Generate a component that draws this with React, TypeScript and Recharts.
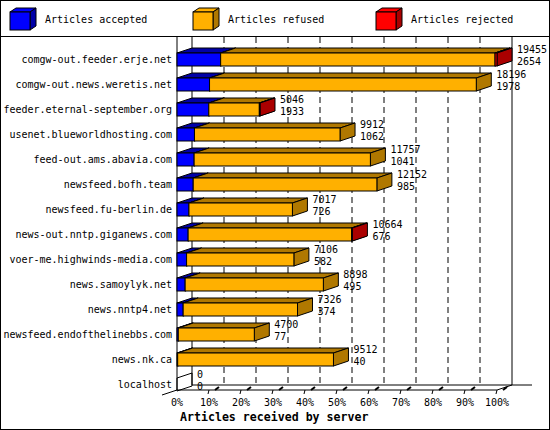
import { BarChart, Bar, XAxis, YAxis, CartesianGrid, Legend, LabelList } from "recharts";

const hosts = [
  "comgw-out.feeder.erje.net",
  "comgw-out.news.weretis.net",
  "feeder.eternal-september.org",
  "usenet.blueworldhosting.com",
  "feed-out.ams.abavia.com",
  "newsfeed.bofh.team",
  "newsfeed.fu-berlin.de",
  "news-out.nntp.giganews.com",
  "voer-me.highwinds-media.com",
  "news.samoylyk.net",
  "news.nntp4.net",
  "newsfeed.endofthelinebbs.com",
  "news.nk.ca",
  "localhost",
];
const received = [19455, 18196, 5046, 9912, 11757, 12152, 7017, 10664, 7106, 8898, 7326, 4700, 9512, 0];
const accepted = [2654, 1978, 1933, 1062, 1041, 985, 726, 676, 582, 495, 374, 77, 40, 0];
const refused = [16681, 16218, 3073, 8850, 10716, 11167, 6291, 9938, 6524, 8403, 6952, 4623, 9472, 0];
const rejected = [120, 0, 40, 0, 0, 0, 0, 50, 0, 0, 0, 0, 0, 0];
const percentTicks = [0, 10, 20, 30, 40, 50, 60, 70, 80, 90, 100];

const MAX = Math.max(...received);
const data = hosts.map((host, i) => ({
  host,
  total: received[i],
  accepted: accepted[i],
  refused: refused[i],
  rejected: rejected[i],
}));

const MONO = "'DejaVu Sans Mono', 'Liberation Mono', monospace";
const DX = 15;
const DY = 5;

const series = [
  { key: "accepted", name: "Articles accepted", fill: "#0000ff", dark: "#0000a8" },
  { key: "refused", name: "Articles refused", fill: "#ffb000", dark: "#b07800" },
  { key: "rejected", name: "Articles rejected", fill: "#ff0000", dark: "#aa0000" },
];

// 3D box: front face, top face and right side
const box = (fill: string, dark: string, outlineEmpty = false) => (p: any) => {
  const { x, y, width: w, height: h } = p;
  if (!(w > 0)) {
    if (!outlineEmpty || x == null) return <g />;
    return (
      <polygon
        points={`${x},${y} ${x + DX},${y - DY} ${x + DX},${y + h - DY} ${x},${y + h}`}
        fill="none"
        stroke="#000"
      />
    );
  }
  return (
    <g stroke="#000" strokeWidth={1}>
      <polygon points={`${x},${y} ${x + w},${y} ${x + w + DX},${y - DY} ${x + DX},${y - DY}`} fill={dark} />
      <polygon
        points={`${x + w},${y} ${x + w + DX},${y - DY} ${x + w + DX},${y + h - DY} ${x + w},${y + h}`}
        fill={dark}
      />
      <rect x={x} y={y} width={w} height={h} fill={fill} />
    </g>
  );
};

const gridLine = (p: any) => {
  const { x1, y1, y2, index } = p;
  const n = percentTicks.length;
  const first = index === 0;
  const last = index === n - 1;
  const top = y1 - 10;
  const back = y2 - 12;
  const front = y2 - 7;
  const plotW = typeof p.width === "number" ? p.width : 320;
  return (
    <g key={p.key ?? index} stroke="#000" fill="none">
      <line x1={x1 + DX} y1={top} x2={x1 + DX} y2={back} strokeDasharray={first || last ? undefined : "6 4"} />
      {!first && (
        <line x1={x1 + 6} y1={front} x2={x1 + 10} y2={front - 3} strokeWidth={2} />
      )}
      {!first && <line x1={x1} y1={front} x2={x1 - 1} y2={front + 4} />}
      {first && (
        <g>
          <line x1={x1} y1={top} x2={x1} y2={front} />
          <line x1={x1} y1={front} x2={x1 + plotW} y2={front} />
          <line x1={x1 + DX} y1={back} x2={x1 + plotW + DX + 20} y2={back} />
          <line x1={x1} y1={front} x2={x1 - DX} y2={front + DY} />
        </g>
      )}
      {last && <line x1={x1} y1={front} x2={x1 + DX} y2={back} />}
    </g>
  );
};

const HostTick = (p: any) => (
  <text x={p.x} y={p.y} dy="0.35em" textAnchor="end" fontFamily={MONO} fontSize={10} fill="#000">
    {p.payload.value}
  </text>
);

const PctTick = (p: any) => (
  <text x={p.x} y={p.y + 5} dy="0.35em" textAnchor="middle" fontFamily={MONO} fontSize={10} fill="#000">
    {`${percentTicks[p.index] ?? Math.round((p.payload.value / MAX) * 100)}%`}
  </text>
);

const Title = (p: any) => {
  const vb = p.viewBox || {};
  return (
    <text x={vb.x + 3} y={vb.y + 20} dy="0.35em" fontFamily={MONO} fontSize={11.6} fontWeight="bold" fill="#000">
      Articles received by server
    </text>
  );
};

const numberLabel = (line: number) => (p: any) => {
  const vb = p.x != null ? p : p.viewBox || {};
  const end = vb.x + (vb.width || 0);
  const ty = line === 0 ? vb.y - 3.5 : vb.y + 8;
  return (
    <text x={end + DX + 5} y={ty} dy="0.35em" fontFamily={MONO} fontSize={10} fill="#000">
      {p.value}
    </text>
  );
};

const LegendBox = () => (
  <div style={{ position: "relative", width: 550, height: 36, borderBottom: "1px solid #000", fontFamily: MONO, fontSize: 10 }}>
    {series.map((s, i) => (
      <div key={s.key} style={{ position: "absolute", left: 183 * i, top: 0, width: 183, height: 36 }}>
        <svg width={40} height={36} style={{ position: "absolute", left: 0, top: 0 }}>
          <g stroke="#000">
            <polygon points="10,12 30,12 36,8 16,8" fill={s.fill} />
            <polygon points="30,12 36,8 36,26 30,30" fill={s.dark} />
            <rect x={10} y={12} width={20} height={18} fill={s.fill} />
          </g>
        </svg>
        <span style={{ position: "absolute", left: 45, top: 14, lineHeight: "12px", whiteSpace: "nowrap" }}>{s.name}</span>
      </div>
    ))}
  </div>
);

export default function App() {
  return (
    <div style={{ position: "absolute", left: 0, top: 0, width: 550, height: 430, background: "#fff" }}>
      <BarChart
        layout="vertical"
        width={550}
        height={430}
        data={data}
        barSize={13}
        margin={{ top: 10, right: 53, bottom: 0, left: 0 }}
      >
        <CartesianGrid horizontal={false} vertical={gridLine} />
        <XAxis
          type="number"
          domain={[0, MAX]}
          ticks={percentTicks.map((t) => (t * MAX) / 100)}
          height={33}
          axisLine={false}
          tickLine={false}
          tickSize={0}
          tickMargin={0}
          tick={PctTick}
          interval={0}
          label={{ content: Title }}
        />
        <YAxis
          type="category"
          dataKey="host"
          width={177}
          axisLine={false}
          tickLine={false}
          tickSize={0}
          tickMargin={5}
          tick={HostTick}
          interval={0}
        />
        <Legend
          verticalAlign="top"
          align="left"
          content={LegendBox}
          wrapperStyle={{ top: 0, left: 0, width: 550, height: 37 }}
        />
        <Bar dataKey="accepted" name="Articles accepted" stackId="a" fill="#0000ff" shape={box("#0000ff", "#0000a8", true)} isAnimationActive={false} />
        <Bar dataKey="refused" name="Articles refused" stackId="a" fill="#ffb000" shape={box("#ffb000", "#b07800")} isAnimationActive={false} />
        <Bar dataKey="rejected" name="Articles rejected" stackId="a" fill="#ff0000" shape={box("#ff0000", "#aa0000")} isAnimationActive={false}>
          <LabelList dataKey="total" content={numberLabel(0)} />
          <LabelList dataKey="accepted" content={numberLabel(1)} />
        </Bar>
      </BarChart>
      <div style={{ position: "absolute", left: 0, top: 0, width: 550, height: 430, border: "1px solid #000", boxSizing: "border-box", pointerEvents: "none" }} />
    </div>
  );
}
